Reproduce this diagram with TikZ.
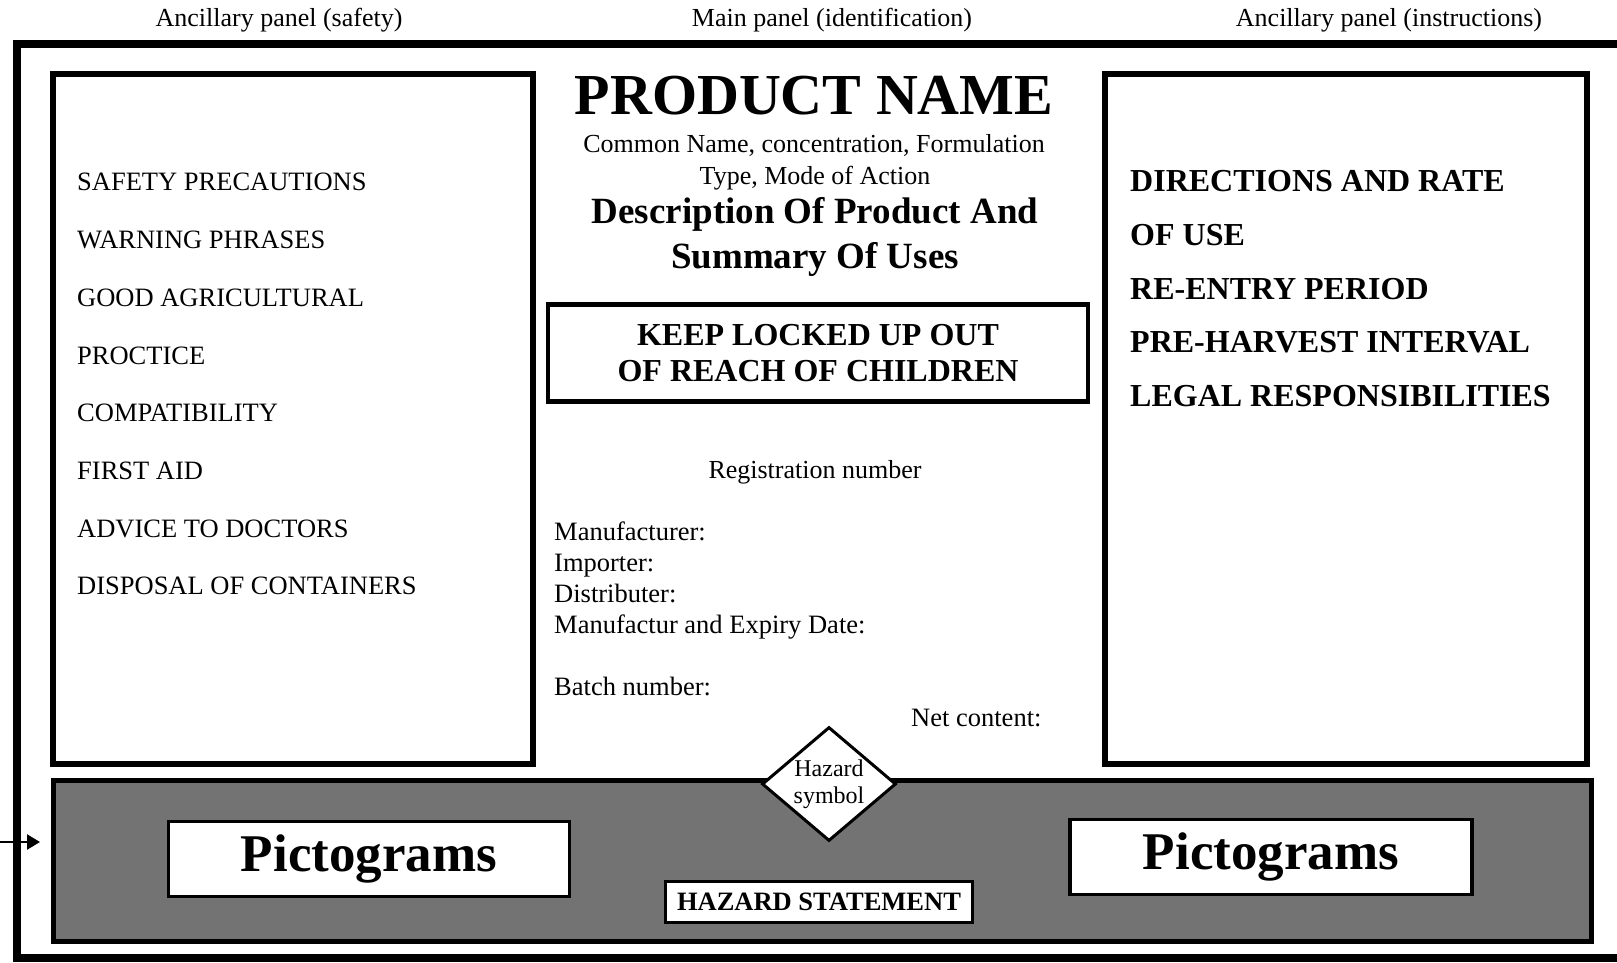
\documentclass[tikz,border=0pt]{standalone}
\usepackage{fontspec}
\setmainfont{Liberation Serif}
\usetikzlibrary{shapes.geometric,arrows.meta}

\begin{document}
\begin{tikzpicture}[x=1pt,y=-1pt,
    panel/.style={draw, line width=5.5, inner sep=0},
    whitebox/.style={draw, fill=white, line width=3.5, inner sep=0},
    plain/.style={inner sep=0, text height=17.5pt, text depth=0pt, font=\fontsize{26}{31}\selectfont},
    listitem/.style={plain, anchor=west, font=\fontsize{26.5}{31}\selectfont},
    bolditem/.style={inner sep=0, anchor=west, font=\bfseries\fontsize{32}{36}\selectfont}]
    \useasboundingbox (0,0) rectangle (1617,962);

    \draw[line width=8] (1640,44) -- (17,44) -- (17,958) -- (1640,958);

    \node[plain] (safetytitle) at (279,18) {Ancillary panel (safety)};
    \node[plain] (maintitle) at (832,18) {Main panel (identification)};
    \node[plain] (instrtitle) at (1389,18) {Ancillary panel (instructions)};

    \node[panel, minimum width=480, minimum height=690] (safety) at (293,419) {};
    \node[panel, minimum width=482, minimum height=690] (instr) at (1346,419) {};

    \foreach \y/\txt [count=\i] in {182/SAFETY PRECAUTIONS, 240/WARNING PHRASES,
        298/GOOD AGRICULTURAL, 356/PROCTICE, 413/COMPATIBILITY, 471/FIRST AID,
        529/ADVICE TO DOCTORS, 586/DISPOSAL OF CONTAINERS}{
        \node[listitem] (safe\i) at (77,\y) {\txt};
    }

    \foreach \y/\txt [count=\i] in {181/DIRECTIONS AND RATE, 235/OF USE,
        289/RE-ENTRY PERIOD, 342/PRE-HARVEST INTERVAL, 396/LEGAL RESPONSIBILITIES}{
        \node[bolditem] (instr\i) at (1130,\y) {\txt};
    }

    \node[inner sep=0, font=\bfseries\fontsize{58}{66}\selectfont] (prodname) at (814,96) {PRODUCT NAME};
    \node[plain] (common) at (814,144) {Common Name, concentration, Formulation};
    \node[plain] (mode) at (815,176) {Type, Mode of Action};
    \node[inner sep=0, align=center, font=\bfseries\fontsize{37}{44.5}\selectfont] (descr) at (815,237) {Description Of Product And\\Summary Of Uses};

    \node[panel, line width=4.5, minimum width=540, minimum height=97, align=center,
        font=\bfseries\fontsize{32}{36}\selectfont] (keep) at (818,353) {KEEP LOCKED UP OUT\\OF REACH OF CHILDREN};

    \node[plain] (regno) at (815,470) {Registration number};
    \foreach \y/\txt [count=\i] in {532/Manufacturer:, 563/Importer:, 594/Distributer:,
        625/Manufactur and Expiry Date:, 687/Batch number:}{
        \node[listitem] (maker\i) at (554,\y) {\txt};
    }
    \node[listitem] (netcontent) at (911,718) {Net content:};

    \node[draw, line width=5, fill=black!55, minimum width=1538, minimum height=161, inner sep=0] (band) at (822,861) {};
    \node[whitebox, minimum width=401, minimum height=75, font=\bfseries\fontsize{53}{60}\selectfont] (picleft) at (369,859) {Pictograms};
    \node[whitebox, minimum width=402, minimum height=75, font=\bfseries\fontsize{53}{60}\selectfont] (picright) at (1271,857) {Pictograms};
    \node[whitebox, minimum width=307, minimum height=41, font=\bfseries\fontsize{26.5}{30}\selectfont] (hazstate) at (819,902) {HAZARD STATEMENT};
    \node[diamond, draw, fill=white, line width=3, inner sep=0, aspect=1.18, minimum width=134,
        minimum height=114, align=center, font=\fontsize{24}{27}\selectfont] (hazsym) at (829,784) {Hazard\\symbol};

    \coordinate (arrowin) at (0,842);
    \coordinate (arrowtip) at (40,842);
    \draw[line width=2.5, -{Triangle[length=13,width=15]}] (arrowin) -- (arrowtip);
\end{tikzpicture}
\end{document}
